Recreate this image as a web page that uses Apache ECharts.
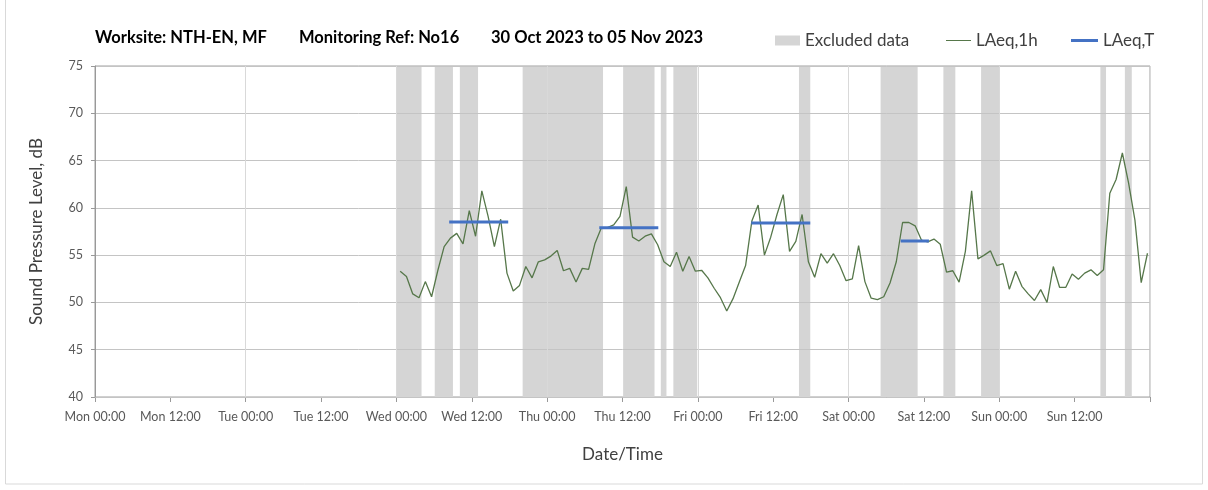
<!DOCTYPE html>
<html>
<head>
<meta charset="utf-8">
<script src="https://cdn.jsdelivr.net/npm/echarts@6/dist/echarts.min.js"></script>
<style>html,body{margin:0;padding:0;background:#fff;}#c{width:1208px;height:490px;}</style>
</head>
<body>
<div id="c"></div>
<script>
// Tick labels (every 12 h from Mon 00:00)
const TICK_LABELS = ['Mon 00:00','Mon 12:00','Tue 00:00','Tue 12:00','Wed 00:00','Wed 12:00','Thu 00:00','Thu 12:00','Fri 00:00','Fri 12:00','Sat 00:00','Sat 12:00','Sun 00:00','Sun 12:00'];
// Hourly LAeq,1h values, first hour starts at START_HOUR (hours since Mon 00:00)
const START_HOUR = 48.6;
const LAEQ_1H = [
  53.3,52.75,50.9,50.5,52.2,50.6,53.4,55.9,56.8,57.3,56.2,59.7,57.0,61.8,59.1,55.9,58.8,53.1,51.2,51.8,53.8,52.6,54.3,
  54.5,54.9,55.5,53.35,53.6,52.15,53.6,53.5,56.2,57.85,57.9,58.2,59.1,62.25,56.9,56.5,57.0,57.25,56.1,54.3,53.8,55.3,53.3,54.85,53.3,
  53.4,52.6,51.5,50.5,49.1,50.4,52.15,53.9,58.6,60.3,55.0,56.9,59.3,61.4,55.4,56.45,59.3,54.3,52.65,55.15,54.15,55.15,53.9,52.3,
  52.5,56.0,52.2,50.45,50.3,50.6,52.05,54.3,58.45,58.45,58.1,56.6,56.4,56.7,56.15,53.2,53.35,52.15,55.4,61.8,54.6,55.0,55.45,53.9,
  54.1,51.4,53.3,51.7,50.9,50.2,51.35,50.0,53.8,51.6,51.6,53.0,52.45,53.1,53.45,52.85,53.45,61.55,63.0,65.8,62.6,58.7,52.1,55.2
];
// LAeq,T periods (hours since Mon 00:00) and levels
const T_START = [56.4, 80.3, 104.5, 128.3];
const T_END   = [65.8, 89.7, 113.9, 132.8];
const T_VALUE = [58.5, 57.9, 58.4, 56.5];
// Excluded data periods (hours since Mon 00:00)
const EXCL_START = [48, 54.1, 58.1, 68.1, 84.1, 90.1, 92.1, 112.1, 125.1, 135.1, 141.1, 160.1, 164];
const EXCL_END   = [52, 57.0, 61.0, 80.9, 89.1, 91.0, 95.9, 113.9, 131.0, 137.0, 144.0, 161.0, 165.1];

const FONT = 'Lato';
const chart = echarts.init(document.getElementById('c'), null, {renderer: 'canvas'});

const series = [];
series.push({
  name: 'Excluded data', type: 'line', data: [], z: 1,
  itemStyle: {color: '#d5d5d5'}, lineStyle: {color: '#d5d5d5'},
  markArea: {
    silent: true, z: 1,
    itemStyle: {color: '#d5d5d5'},
    data: EXCL_START.map((s, i) => [{xAxis: s}, {xAxis: EXCL_END[i]}])
  }
});
series.push({
  name: 'LAeq,1h', type: 'line', z: 5, symbol: 'none',
  data: LAEQ_1H.map((v, i) => [START_HOUR + i, v]),
  itemStyle: {color: '#56774a'}, lineStyle: {color: '#56774a', width: 1.3}
});
T_START.forEach((s, i) => {
  series.push({
    name: 'LAeq,T', type: 'line', z: 6, symbol: 'none',
    data: [[s, T_VALUE[i]], [T_END[i], T_VALUE[i]]],
    itemStyle: {color: '#4472c4'}, lineStyle: {color: '#4472c4', width: 3}
  });
});

const titleStyle = {fontFamily: FONT, fontWeight: 'bold', fontSize: 16.5, color: '#000'};
const legendText = {fontFamily: FONT, fontSize: 17, color: '#404040'};
chart.setOption({
  animation: false,
  backgroundColor: '#fff',
  title: [
    {text: 'Worksite: NTH-EN, MF', left: 95, top: 29, padding: 0, textStyle: titleStyle},
    {text: 'Monitoring Ref: No16', left: 299, top: 29, padding: 0, textStyle: titleStyle},
    {text: '30 Oct 2023 to 05 Nov 2023', left: 491, top: 29, padding: 0, textStyle: titleStyle}
  ],
  legend: [
    {data: [{name: 'Excluded data', icon: 'rect'}], left: 775, top: 32, padding: 0, itemWidth: 25, itemHeight: 10, textStyle: legendText, selectedMode: false},
    {data: [{name: 'LAeq,1h', icon: 'rect'}], left: 946, top: 32, padding: 0, itemWidth: 25, itemHeight: 1, textStyle: legendText, selectedMode: false},
    {data: [{name: 'LAeq,T', icon: 'rect'}], left: 1071, top: 32, padding: 0, itemWidth: 27, itemHeight: 3, textStyle: legendText, selectedMode: false}
  ],
  grid: {left: 95, right: 58, top: 66, bottom: 93, show: true, borderColor: '#a0a0a0', borderWidth: 1, containLabel: false},
  xAxis: [
    {
      type: 'value', min: 0, max: 168, interval: 12,
      name: 'Date/Time', nameLocation: 'middle', nameGap: 49,
      nameTextStyle: {fontFamily: FONT, fontSize: 17, color: '#404040'},
      axisLine: {show: true, lineStyle: {color: '#999'}},
      axisTick: {show: true, length: 5, lineStyle: {color: '#999'}},
      axisLabel: {margin: 13, fontFamily: FONT, fontSize: 12.5, color: '#595959', showMaxLabel: true,
        formatter: v => TICK_LABELS[Math.round(v / 12)] || ''},
      splitLine: {show: false}
    },
    {
      type: 'value', min: 0, max: 168, interval: 24, z: 3,
      axisLine: {show: false}, axisTick: {show: false}, axisLabel: {show: false},
      splitLine: {show: true, lineStyle: {color: '#d9d9d9', width: 1}}
    }
  ],
  yAxis: {
    type: 'value', min: 40, max: 75, interval: 5, z: 3,
    name: 'Sound Pressure Level, dB', nameLocation: 'middle', nameGap: 50,
    nameTextStyle: {fontFamily: FONT, fontSize: 17, color: '#404040'},
    axisLine: {show: true, lineStyle: {color: '#999'}},
    axisTick: {show: true, length: 4, lineStyle: {color: '#999'}},
    axisLabel: {margin: 12, fontFamily: FONT, fontSize: 12.5, color: '#595959'},
    splitLine: {show: true, lineStyle: {color: '#c4c4c4', width: 1}}
  },
  graphic: [{type: 'rect', silent: true, z: -1, shape: {x: 5.5, y: -2, width: 1197, height: 486}, style: {fill: null, stroke: '#d9d9d9', lineWidth: 1}}],
  series: series
});
</script>
</body>
</html>
